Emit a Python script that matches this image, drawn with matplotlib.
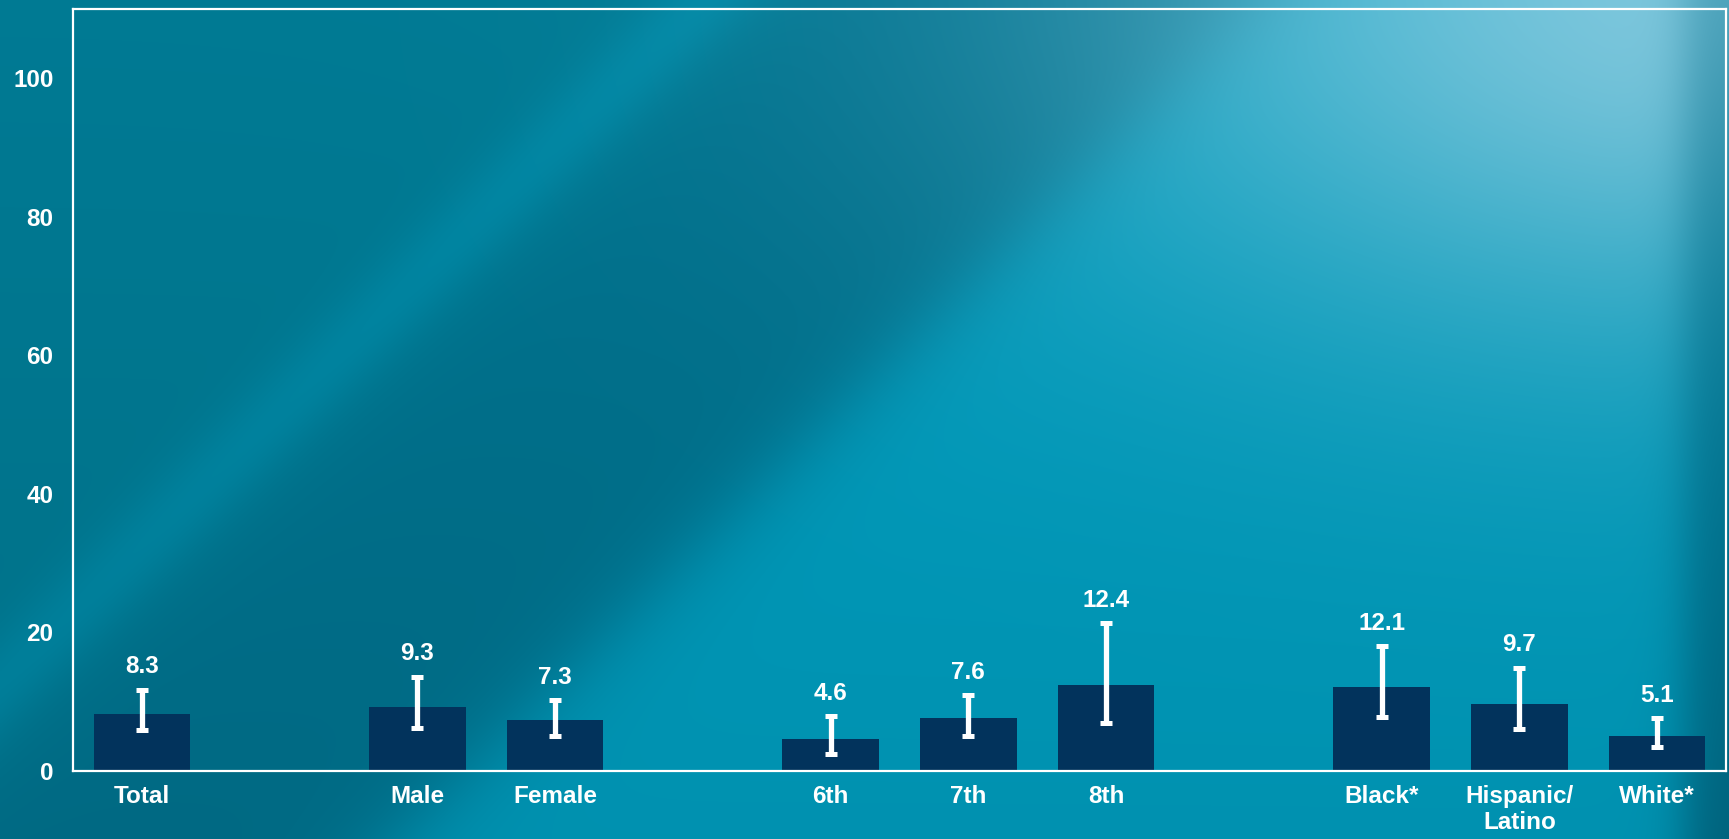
import numpy as np
import matplotlib
matplotlib.use("Agg")
import matplotlib.pyplot as plt

# ---- data ----
groups = [
    ["Total"],
    ["Male", "Female"],
    ["6th", "7th", "8th"],
    ["Black*", "Hispanic/\nLatino", "White*"],
]
values = [8.3, 9.3, 7.3, 4.6, 7.6, 12.4, 12.1, 9.7, 5.1]
ci_low = [5.9, 6.2, 5.0, 2.5, 5.0, 6.9, 7.8, 6.1, 3.4]
ci_high = [11.7, 13.6, 10.2, 7.9, 10.9, 21.3, 18.0, 14.9, 7.6]
value_labels = ["8.3", "9.3", "7.3", "4.6", "7.6", "12.4", "12.1", "9.7", "5.1"]
y_ticks = [0, 20, 40, 60, 80, 100]

# positions: one empty slot between groups
labels, pos = [], []
p = 0
for g in groups:
    for lab in g:
        labels.append(lab)
        pos.append(p)
        p += 1
    p += 1
pos = np.array(pos, dtype=float)

W, H = 1729, 839
fig = plt.figure(figsize=(W / 100, H / 100), dpi=100)

# ---- background gradient ----
gh, gw = 420, 865
yy, xx = np.mgrid[0:1:gh * 1j, 0:1:gw * 1j]
d = xx + 0.5 * yy

def sig(z):
    return 1 / (1 + np.exp(-z))

def blend(img, col, w):
    col = np.array(col)[None, None, :]
    return img * (1 - w[..., None]) + col * w[..., None]

img = np.ones((gh, gw, 3)) * np.array([0.0, 0.48, 0.58])[None, None, :]
img = blend(img, (0.0, 0.56, 0.68), 0.7 * np.exp(-((d - 0.41) / 0.035) ** 2))
img = blend(img, (0.0, 0.45, 0.56), sig((d - 0.46) / 0.02))
img = blend(img, (0.0, 0.62, 0.75), sig((d - 0.73) / 0.02))
hl = 0.9 * np.exp(-(((xx - 1.0) / 0.35) ** 2 + ((yy - 0.0) / 0.4) ** 2))
img = blend(img, (0.55, 0.80, 0.88), hl)
edge = sig((xx - 0.975) / 0.008) * (0.4 + 0.6 * yy)
img = blend(img, (0.0, 0.42, 0.53), edge)
img = img * (1 - 0.08 * yy[..., None])
img = np.clip(img, 0, 1)

bg = fig.add_axes([0, 0, 1, 1], zorder=0)
bg.imshow(img, aspect="auto", interpolation="bilinear", extent=(0, 1, 0, 1))
bg.set_axis_off()

# ---- main axes ----
ax = fig.add_axes([73 / W, 68 / H, (1726 - 73) / W, (771 - 9) / H], zorder=1)
ax.set_facecolor("none")

bar_color = "#02335c"
ax.bar(pos, values, width=0.7, color=bar_color, zorder=2)

vals = np.array(values)
yerr = np.vstack([vals - np.array(ci_low), np.array(ci_high) - vals])
ax.errorbar(pos, vals, yerr=yerr, fmt="none", ecolor="white",
            elinewidth=3.8, capsize=4.6, capthick=3.6, zorder=3)

font = dict(family=["Liberation Sans", "DejaVu Sans"], weight="bold",
            color="white", size=17.5)

for x, top, lab in zip(pos, ci_high, value_labels):
    ax.annotate(lab, xy=(x, top), xytext=(0, 12), textcoords="offset points",
                ha="center", va="baseline", **font)

ax.set_xlim(-0.5, 11.5)
ax.set_ylim(0, 110)
ax.set_xticks(pos)
ax.set_xticklabels(labels, linespacing=1.15, **font)
ax.set_yticks(y_ticks)
ax.set_yticklabels([str(t) for t in y_ticks], **font)
ax.tick_params(axis="both", length=0)
ax.tick_params(axis="y", pad=14)
ax.tick_params(axis="x", pad=10)

for s in ax.spines.values():
    s.set_color("white")
    s.set_linewidth(1.6)

fig.savefig("out.png", dpi=100)
